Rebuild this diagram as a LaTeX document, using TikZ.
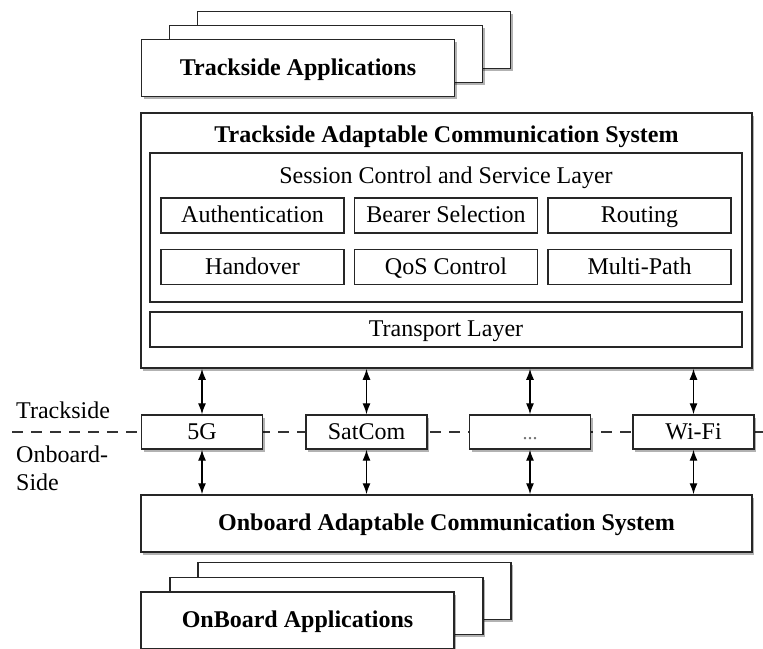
\documentclass[tikz,border=0pt]{standalone}
\usepackage{fontspec}
\setmainfont{Liberation Serif}
\usetikzlibrary{arrows.meta,shadows}
\begin{document}
\begin{tikzpicture}[x=1pt,y=-1pt,
  every node/.style={font=\fontsize{24}{28}\selectfont},
  tb/.style={text height=17pt, text depth=3pt},
  shad/.style={drop shadow={shadow xshift=2pt, shadow yshift=-2.5pt, opacity=0.3, fill=black}},
  appbox/.style={draw=black!85, line width=1.5pt, fill=white, minimum width=313pt, minimum height=57pt, inner sep=0pt, shad, tb, font=\fontsize{24}{28}\selectfont\bfseries},
  frame/.style={draw=black!85, line width=1.5pt, fill=white, inner sep=0pt, tb},
  subbox/.style={draw=black!85, line width=1.4pt, fill=white, minimum width=183pt, minimum height=35pt, inner sep=0pt, tb},
  chan/.style={draw=black!85, line width=1.4pt, fill=white, minimum width=121pt, minimum height=34pt, inner sep=0pt, shad, tb},
  link/.style={{Latex[length=11pt,width=8pt]}-{Latex[length=11pt,width=8pt]}, line width=1.3pt},
  sepline/.style={dash pattern=on 11pt off 8pt, line width=1.3pt, draw=black!80},
  lbl/.style={inner sep=0pt, anchor=west, align=left}
]
\useasboundingbox (0,0) rectangle (763,648);

% trackside applications stack
\node[appbox] (ta3) at (354,40) {};
\node[appbox] (ta2) at (326,54) {};
\node[appbox] (ta1) at (298,68) {Trackside Applications};

% dashed separation line (behind boxes)
\coordinate (dl) at (12,432);
\coordinate (dr) at (763,432);
\draw[sepline] (dl) -- (dr);

% trackside adaptable communication system
\node[frame, shad, minimum width=611pt, minimum height=255pt] (tacs) at (446.5,240.5) {};
\node[inner sep=0pt, tb, font=\fontsize{24}{28}\selectfont\bfseries] (tacst) at (446.5,135) {Trackside Adaptable Communication System};
\node[frame, minimum width=592pt, minimum height=149pt] (sess) at (446,227.5) {};
\node[inner sep=0pt, tb] (sesst) at (446,176) {Session Control and Service Layer};
\node[subbox] (auth) at (252.5,215.5) {Authentication};
\node[subbox] (bear) at (446,215.5) {Bearer Selection};
\node[subbox] (rout) at (639.5,215.5) {Routing};
\node[subbox] (hand) at (252.5,267) {Handover};
\node[subbox] (qos) at (446,267) {QoS Control};
\node[subbox] (mpath) at (639.5,267) {Multi-Path};
\node[frame, minimum width=592pt, minimum height=35pt] (trans) at (446,329.5) {Transport Layer};

% channels
\node[chan] (c5g) at (202,432) {5G};
\node[chan] (csat) at (366.5,432) {SatCom};
\node[chan] (cdots) at (530,432) {{\color{black!55}\fontsize{20}{24}\selectfont ...}};
\node[chan] (cwifi) at (693.5,432) {Wi-Fi};

% side labels
\node[lbl] (trk) at (16,410) {Trackside};
\node[lbl] (onb) at (16,468) {Onboard-\\Side};

% onboard adaptable communication system
\node[frame, shad, minimum width=611pt, minimum height=57pt, font=\fontsize{24}{28}\selectfont\bfseries] (oacs) at (446.5,523.5) {Onboard Adaptable Communication System};

% arrows
\foreach \c in {c5g,csat,cdots,cwifi}{
  \draw[link] (\c.north |- tacs.south) -- (\c.north);
  \draw[link] (\c.south) -- (\c.south |- oacs.north);
}

% onboard applications stack
\node[appbox] (oa3) at (354.5,591) {};
\node[appbox] (oa2) at (326.5,606) {};
\node[appbox] (oa1) at (297.5,620.5) {OnBoard Applications};
\end{tikzpicture}
\end{document}
